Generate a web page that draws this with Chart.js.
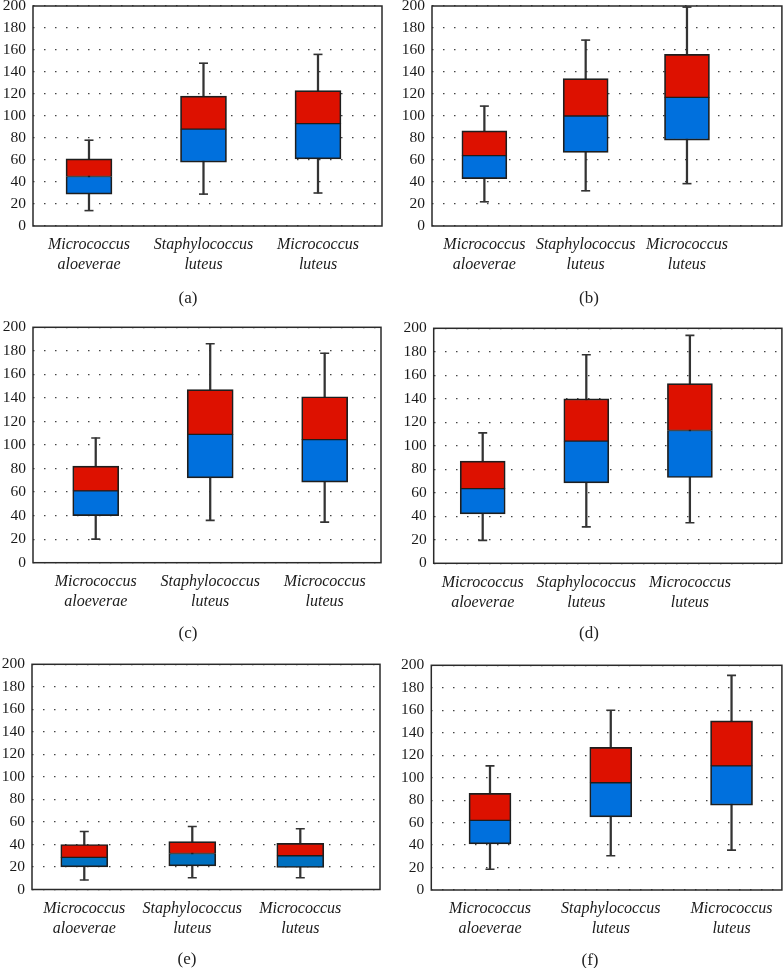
<!DOCTYPE html>
<html>
<head>
<meta charset="utf-8">
<script src="https://cdn.jsdelivr.net/npm/chart.js@4"></script>
<style>
    html, body { margin: 0; padding: 0; background: #fff; }
    body { width: 784px; height: 968px; position: relative; overflow: hidden; }
    canvas { position: absolute; }
    .cap {
        position: absolute; width: 60px; margin-left: -30px; margin-top: -11px;
        text-align: center; font: 17px 'Liberation Serif', serif; color: #222; line-height: 22px;
    }
</style>
</head>
<body>
<script>
(function () {
    'use strict';

    // ---- data ----
    var categories = [['Micrococcus', 'aloeverae'], ['Staphylococcus', 'luteus'], ['Micrococcus', 'luteus']];
    var positions = [1, 2, 3];
    var yMin = 0, yMax = 200, yStep = 20;

    var minA = [14, 29, 30],     q1A = [29, 58, 61],   medA = [45, 88, 93],     q3A = [61, 118, 123],   maxA = [78, 148, 156];
    var minB = [22, 32, 38.5],   q1B = [43, 67, 78],   medB = [64, 100, 117],   q3B = [86.5, 134, 156], maxB = [109, 169, 199];
    var minC = [20, 36, 34.5],   q1C = [40, 72, 68.5], medC = [61, 109, 104.5], q3C = [82, 147, 141],   maxC = [106, 186, 178];
    var minD = [19.5, 31, 34.5], q1D = [42, 68.5, 73], medD = [63.5, 104, 113], q3D = [87, 140, 153],   maxD = [111, 177.5, 194];
    var minE = [8.5, 10.5, 10.5], q1E = [20, 21, 19.5], medE = [28.5, 32, 30],  q3E = [40, 42.5, 41],   maxE = [51.5, 56, 54];
    var minF = [18.5, 30.5, 35.5], q1F = [41, 65, 75.5], medF = [62, 95.5, 110.5], q3F = [86, 127, 150.5], maxF = [110.5, 160, 191];

    var captions = ['(a)', '(b)', '(c)', '(d)', '(e)', '(f)'];

    // ---- look ----
    var SERIF = "'Liberation Serif', serif";
    var RED = '#dd1100';
    var BLUE = '#0070dd';
    var BLUE_E = '#0070c0';
    var EDGE = '#1e1e1e';
    var WHISK = '#333';
    var XH = 56; // room for the two-line category labels

    // plot = [left, right, top, bottom] in page px, xr = linear x range
    var panels = [
        { s: [minA, q1A, medA, q3A, maxA], blue: BLUE,   left: 0,   top: -20, width: 392, plot: [33, 382, 6, 226],        xr: [0.511, 3.559], box: 46, cap: [188, 298] },
        { s: [minB, q1B, medB, q3B, maxB], blue: BLUE,   left: 392, top: -20, width: 396, plot: [432, 786, 6, 226],       xr: [0.483, 3.937], box: 45, cap: [589, 298] },
        { s: [minC, q1C, medC, q3C, maxC], blue: BLUE,   left: 0,   top: 300, width: 392, plot: [33, 381, 327.3, 562.7],  xr: [0.452, 3.492], box: 46, cap: [188, 633] },
        { s: [minD, q1D, medD, q3D, maxD], blue: BLUE,   left: 392, top: 300, width: 396, plot: [433.7, 786, 328.3, 563.3], xr: [0.527, 3.888], box: 45, cap: [589, 633] },
        { s: [minE, q1E, medE, q3E, maxE], blue: BLUE_E, left: 0,   top: 640, width: 392, plot: [32, 380, 664.3, 889.5],  xr: [0.516, 3.738], box: 47, cap: [187, 959] },
        { s: [minF, q1F, medF, q3F, maxF], blue: BLUE,   left: 392, top: 640, width: 396, plot: [431.3, 786, 665.3, 890], xr: [0.514, 3.417], box: 42, cap: [590, 960] }
    ];

    var framePlugin = {
        id: 'frame',
        afterDraw: function (chart) {
            var a = chart.chartArea, c = chart.ctx;
            c.save();
            c.strokeStyle = '#2a2a2a';
            c.lineWidth = 1.5;
            c.strokeRect(a.left, a.top, a.right - a.left, a.bottom - a.top);
            c.restore();
        }
    };

    function pts(arr) {
        return positions.map(function (x, i) { return { x: x, y: arr[i] }; });
    }
    function span(lo, hi) {
        return positions.map(function (x, i) { return { x: x, y: [lo[i], hi[i]] }; });
    }

    function buildPanel(p, idx) {
        var H = Math.round(p.plot[3] - p.top + XH + 6);
        var canvas = document.createElement('canvas');
        canvas.width = p.width;
        canvas.height = H;
        canvas.style.left = p.left + 'px';
        canvas.style.top = p.top + 'px';
        canvas.style.width = p.width + 'px';
        canvas.style.height = H + 'px';
        document.body.appendChild(canvas);

        var mn = p.s[0], q1 = p.s[1], md = p.s[2], q3 = p.s[3], mx = p.s[4];

        new Chart(canvas, {
            type: 'bar',
            data: {
                datasets: [
                    { type: 'bar', data: span(mn, mx), backgroundColor: WHISK, barThickness: 1.6, grouped: false, order: 3 },
                    { type: 'bar', data: span(q1, md), backgroundColor: p.blue, borderColor: EDGE,
                      borderWidth: { top: 1, bottom: 1.7, left: 1.7, right: 1.7 }, borderSkipped: false,
                      barThickness: p.box, grouped: false, order: 2 },
                    { type: 'bar', data: span(md, q3), backgroundColor: RED, borderColor: EDGE,
                      borderWidth: { top: 1.7, bottom: 1, left: 1.7, right: 1.7 }, borderSkipped: false,
                      barThickness: p.box, grouped: false, order: 2 },
                    { type: 'line', data: pts(mn), showLine: false, pointStyle: 'line', pointRadius: 4.5, pointHoverRadius: 4.5,
                      pointBorderColor: WHISK, pointBorderWidth: 1.6, order: 1 },
                    { type: 'line', data: pts(mx), showLine: false, pointStyle: 'line', pointRadius: 4.5, pointHoverRadius: 4.5,
                      pointBorderColor: WHISK, pointBorderWidth: 1.6, order: 1 }
                ]
            },
            options: {
                responsive: false,
                animation: false,
                events: [],
                layout: {
                    padding: {
                        top: p.plot[2] - p.top,
                        right: p.left + p.width - p.plot[1],
                        bottom: H - (p.plot[3] - p.top) - XH,
                        left: 0
                    }
                },
                plugins: { legend: { display: false }, tooltip: { enabled: false } },
                scales: {
                    x: {
                        type: 'linear', min: p.xr[0], max: p.xr[1], bounds: 'data', offset: false,
                        grid: { display: false, offset: false },
                        border: { display: false },
                        afterBuildTicks: function (s) { s.ticks = positions.map(function (v) { return { value: v }; }); },
                        afterFit: function (s) { s.height = XH; },
                        ticks: {
                            autoSkip: false, maxRotation: 0, padding: 1, color: '#1a1a1a',
                            font: { family: SERIF, size: 16, style: 'italic', lineHeight: 1.25 },
                            callback: function (v, i) { return categories[i]; }
                        }
                    },
                    y: {
                        min: yMin, max: yMax,
                        grid: { color: '#444', lineWidth: 1.2, drawTicks: false },
                        border: { display: false, dash: [1.5, 9.5] },
                        afterFit: function (s) { s.width = p.plot[0] - p.left; },
                        ticks: { stepSize: yStep, padding: 7, color: '#1a1a1a', font: { family: SERIF, size: 15.5 } }
                    }
                }
            },
            plugins: [framePlugin]
        });

        var cap = document.createElement('div');
        cap.className = 'cap';
        cap.style.left = p.cap[0] + 'px';
        cap.style.top = p.cap[1] + 'px';
        cap.textContent = captions[idx];
        document.body.appendChild(cap);
    }

    panels.forEach(buildPanel);
})();
</script>
</body>
</html>
